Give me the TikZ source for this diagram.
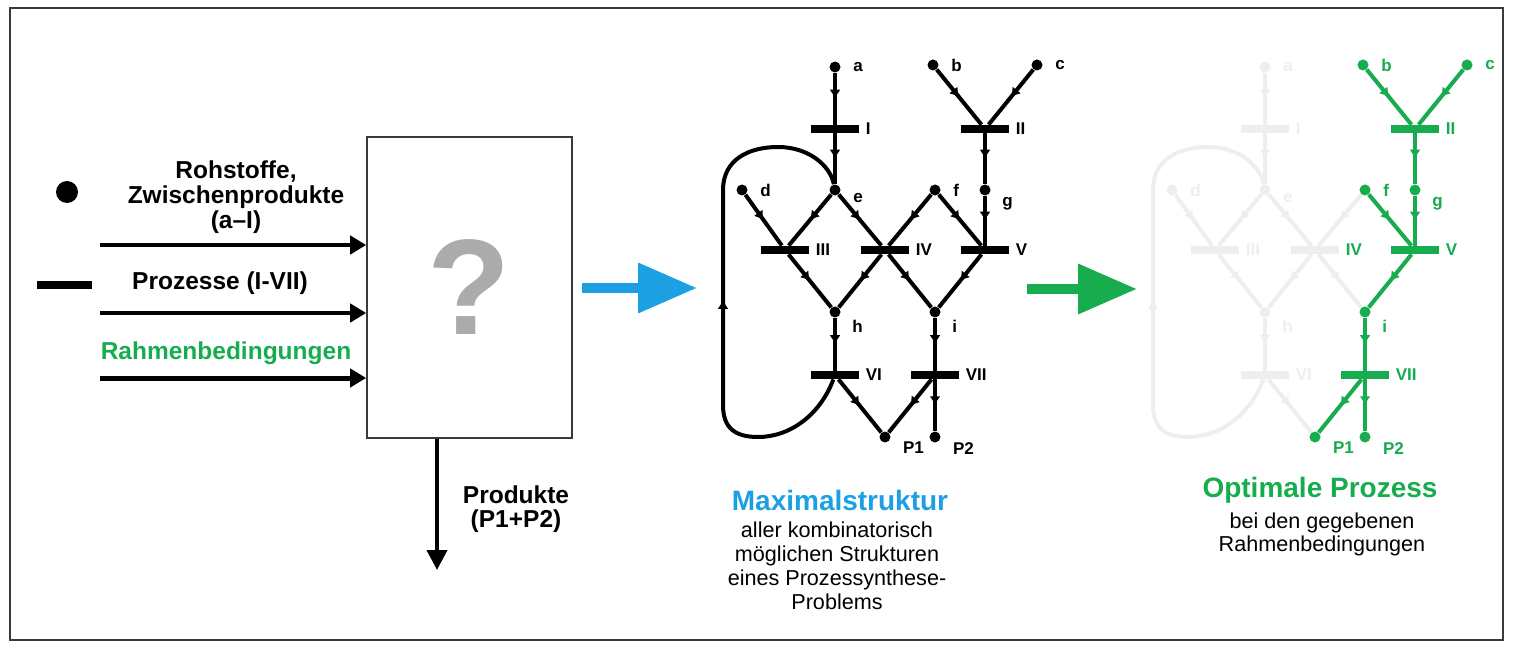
\documentclass[tikz,border=0pt]{standalone}
\usepackage{fontspec}
\setmainfont{Liberation Sans}
\usetikzlibrary{arrows.meta,positioning,decorations.markings}
\definecolor{maxblue}{HTML}{1CA0E3}
\definecolor{optgreen}{HTML}{17AD4F}
\definecolor{ghost}{HTML}{EEEEEE}
\definecolor{framegrey}{HTML}{3A3A3A}
\tikzset{
  stoff/.style={circle, fill, inner sep=0pt, minimum size=5.5pt},
  prozess/.style={rectangle, fill, inner sep=0pt, minimum width=24pt, minimum height=4pt},
  lbl/.style={font=\fontsize{8.5}{9}\selectfont\bfseries, inner sep=1pt},
  kante/.style={line width=2pt, postaction={decorate},
    decoration={markings, mark=at position 0.5 with {\arrow{Latex[length=4.5pt,width=5.5pt]}}}},
  legende/.style={font=\fontsize{12.25}{12.5}\selectfont\bfseries, align=center},
  unterschrift/.style={font=\fontsize{10.8}{12}\selectfont, align=center},
  titel/.style={font=\fontsize{14}{16}\selectfont\bfseries},
  zufluss/.style={-{Triangle[length=8pt,width=9pt]}, line width=2pt},
  blockpfeil/.style={-{Triangle[length=29.5pt,width=24pt]}, line width=5pt},
}

\begin{document}
\begin{tikzpicture}[x=0.5pt, y=-0.5pt]
  \useasboundingbox (0,0) rectangle (1513,646);
  \draw[framegrey, line width=0.75pt] (10,8) rectangle (1503,640);

  % legend and black box
  \node[stoff, minimum size=11pt] (legdot) at (67,192) {};
  \node[prozess, minimum width=27.5pt] (legbar) at (64,285) {};
  \node[legende] (rohstoffe) at (236,197) {Rohstoffe,\\Zwischenprodukte\\(a–I)};
  \node[legende] (prozesse) at (220,283) {Prozesse (I-VII)};
  \node[legende, text=optgreen] (rahmen) at (226,353) {Rahmenbedingungen};
  \node[draw=framegrey, line width=0.8pt, minimum width=102.5pt, minimum height=150.5pt,
        inner sep=0pt, text=black!33, font=\fontsize{68}{68}\selectfont\bfseries] (box) at (469.5,287.5) {?};
  \coordinate (in1) at (100,245);
  \coordinate (in2) at (100,313);
  \coordinate (in3) at (100,378);
  \draw[zufluss] (in1) -- (in1 -| box.west);
  \draw[zufluss] (in2) -- (in2 -| box.west);
  \draw[zufluss, line width=2.5pt] (in3) -- (in3 -| box.west);
  \coordinate (out) at (437,570);
  \draw[zufluss, -{Triangle[length=10pt,width=10pt]}] (box.south -| out) -- (out);
  \node[legende, font=\fontsize{12.25}{12}\selectfont\bfseries] (produkte) at (516,509) {Produkte\\(P1+P2)};

  % block arrows
  \coordinate (blau1) at (582,288);
  \coordinate (blau2) at (697,288);
  \draw[blockpfeil, maxblue] (blau1) -- (blau2);
  \coordinate (gruen1) at (1027,289);
  \coordinate (gruen2) at (1137,289);
  \draw[blockpfeil, optgreen] (gruen1) -- (gruen2);

  % maximal structure (m) and its faded copy behind the optimum (x)
  \foreach \p/\dx/\col in {m/0/black, x/430/ghost}{
    \begin{scope}[shift={(\dx,0)}, color=\col]
      \foreach \n/\x/\y/\a in {a/835/67/0, b/933/65/0, c/1037/65/0, d/742/190/0, e/835/190/-5,
                               f/935/190/0, g/985/190/-20, h/835/312/-20, i/935/312/-20,
                               P1/885/437/-10, P2/935/437/-10}
        \node[stoff, label={[lbl, label distance=5pt]\a:\n}] (\p\n) at (\x,\y) {};
      \foreach \n/\x/\y in {I/835/129, II/985/129, III/785/250, IV/885/250, V/985/250,
                            VI/835/375, VII/935/375}
        \node[prozess, label={[lbl, label distance=2pt]right:\n}] (\p\n) at (\x,\y) {};
      \foreach \s/\t in {a/I, I/e, b/II, c/II, II/g, g/V, d/III, e/III, e/IV, f/IV, f/V,
                         III/h, IV/h, IV/i, V/i, h/VI, i/VII, VI/P1, VII/P1, VII/P2}
        \draw[kante] (\p\s) -- (\p\t);
      \draw[kante] (\p VI) .. controls (820,415) and (790,437) .. (758,437)
        .. controls (735,437) and (723,428) .. (723,405) -- (723,190)
        .. controls (723,160) and (748,147) .. (778,147)
        .. controls (808,147) and (830,165) .. (\p e);
    \end{scope}
  }

  % optimal process
  \begin{scope}[shift={(430,0)}, color=optgreen]
    \foreach \n/\x/\y/\a in {b/933/65/0, c/1037/65/0, f/935/190/0, g/985/190/-20,
                             i/935/312/-20, P1/885/437/-10, P2/935/437/-10}
      \node[stoff, label={[lbl, label distance=5pt]\a:\n}] (g\n) at (\x,\y) {};
    \foreach \n/\x/\y in {II/985/129, V/985/250, VII/935/375}
      \node[prozess, label={[lbl, label distance=2pt]right:\n}] (g\n) at (\x,\y) {};
    \foreach \s/\t in {b/II, c/II, II/g, g/V, f/V, V/i, i/VII, VII/P1, VII/P2}
      \draw[kante] (g\s) -- (g\t);
  \end{scope}
  \node[lbl, text=optgreen, right=2pt of xIV] (gIVlbl) {IV};

  % captions
  \node[titel, text=maxblue] (maxtitel) at (840,500) {Maximalstruktur};
  \node[unterschrift] (maxtext) at (837,566) {aller kombinatorisch\\möglichen Strukturen\\eines Prozessynthese-\\Problems};
  \node[titel, text=optgreen] (opttitel) at (1320,490) {Optimale Prozess};
  \node[unterschrift, font=\fontsize{10.8}{11.5}\selectfont] (opttext) at (1322,534) {bei den gegebenen\\Rahmenbedingungen};
\end{tikzpicture}
\end{document}
